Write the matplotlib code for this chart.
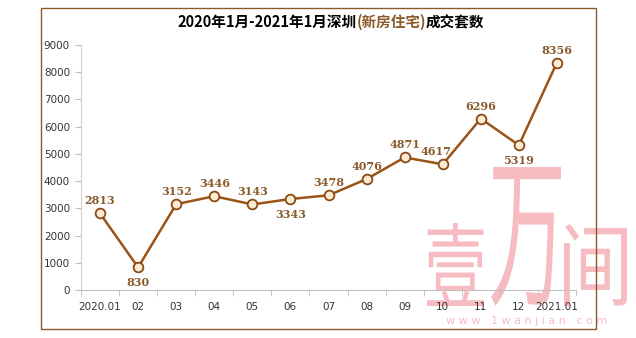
import matplotlib
matplotlib.use("Agg")
import matplotlib.pyplot as plt
from matplotlib.patches import Rectangle, PathPatch
from matplotlib.textpath import TextPath
from matplotlib.font_manager import FontProperties
from matplotlib.transforms import Affine2D

plt.rcParams['font.family'] = ['Noto Sans CJK SC', 'DejaVu Sans']

months = ["2020.01", "02", "03", "04", "05", "06", "07", "08", "09", "10", "11", "12", "2021.01"]
deals = [2813, 830, 3152, 3446, 3143, 3343, 3478, 4076, 4871, 4617, 6296, 5319, 8356]
label_below = [False, True, False, False, False, True, False, False, False, False, False, True, False]
yticks = [0, 1000, 2000, 3000, 4000, 5000, 6000, 7000, 8000, 9000]

W, H = 636, 338
fig = plt.figure(figsize=(W / 100, H / 100), dpi=100)
fig.patch.set_facecolor("white")


def fx(px):
    return px / W


def fy(py):
    return 1 - py / H


# watermark logo drawn behind the chart
wm_color = "#F7BCC2"
wm_font = FontProperties(family="Noto Sans CJK SC", weight="light")
for ch, (x0, y0, x1, y1) in [("壹", (427, 223, 484, 306)),
                             ("万", (491, 167, 561, 306)),
                             ("间", (564, 224, 627, 306))]:
    tp = TextPath((0, 0), ch, size=1, prop=wm_font)
    ext = tp.get_extents()
    sx = (fx(x1) - fx(x0)) / ext.width
    sy = (fy(y0) - fy(y1)) / ext.height
    tr = Affine2D().translate(-ext.x0, -ext.y0).scale(sx, sy).translate(fx(x0), fy(y1))
    patch = PathPatch(tr.transform_path(tp), facecolor=wm_color, edgecolor="none",
                      transform=fig.transFigure, zorder=-2)
    fig.add_artist(patch)
fig.text(fx(527), fy(321), "w w w . 1 w a n j i a n . c o m", color=wm_color,
         fontsize=8, ha="center", va="center", family="DejaVu Sans", zorder=-2)

# outer frame
fig.add_artist(Rectangle((fx(41), fy(329)), fx(596) - fx(41), fy(8) - fy(329),
                         transform=fig.transFigure, fill=False,
                         edgecolor="#8B5A2B", linewidth=1.0, zorder=5))

ax = fig.add_axes([fx(81), fy(290), fx(576) - fx(81), fy(45) - fy(290)])
ax.set_facecolor("none")
x = list(range(len(months)))
ax.plot(x, deals, color="#9A5418", linewidth=1.8, zorder=3,
        marker="o", markersize=7, markerfacecolor="#FCEBD3",
        markeredgecolor="#8B4A14", markeredgewidth=1.3)

for xi, v, below in zip(x, deals, label_below):
    # nudge the label left where the next segment climbs steeply
    dx = -5 if xi == 9 else 0
    ax.annotate(str(v), (xi, v), xytext=(dx, -11 if below else 9),
                textcoords="offset points", ha="center",
                va="center", fontsize=8, fontweight="bold",
                color="#8B5A2B", family="DejaVu Serif", zorder=4)

ax.set_xlim(-0.5, len(months) - 0.5)
ax.set_ylim(0, 9000)
ax.set_yticks(yticks)
ax.set_yticklabels([str(t) for t in yticks], fontsize=7.5, color="#333333",
                   family="DejaVu Sans")
ax.set_xticks(x)
ax.set_xticklabels(months, fontsize=7.5, color="#333333", family="DejaVu Sans")
ax.set_xticks([i - 0.5 for i in range(len(months) + 1)], minor=True)
ax.tick_params(axis="x", which="major", length=0, pad=9)
ax.tick_params(axis="x", which="minor", length=4, color="#BFBFBF", direction="out")
ax.tick_params(axis="y", length=4, color="#BFBFBF", direction="out", pad=4)
for side in ("top", "right"):
    ax.spines[side].set_visible(False)
ax.spines["left"].set_color("#D0D0D0")
ax.spines["bottom"].set_color("#BFBFBF")

# title in three pieces so the middle part can carry its own colour
parts = [("2020年1月-2021年1月深圳", "black"), ("(新房住宅)", "#8B5A2B"), ("成交套数", "black")]
fig.canvas.draw()
renderer = fig.canvas.get_renderer()
texts = []
for s, c in parts:
    t = fig.text(0, fy(22), s, color=c, fontsize=10.5, fontweight="bold",
                 ha="left", va="center")
    texts.append(t)
widths = [t.get_window_extent(renderer).width for t in texts]
total = sum(widths)
start = 331 - total / 2
for t, w in zip(texts, widths):
    t.set_x(fx(start))
    start += w

fig.savefig("out.png", dpi=100)
